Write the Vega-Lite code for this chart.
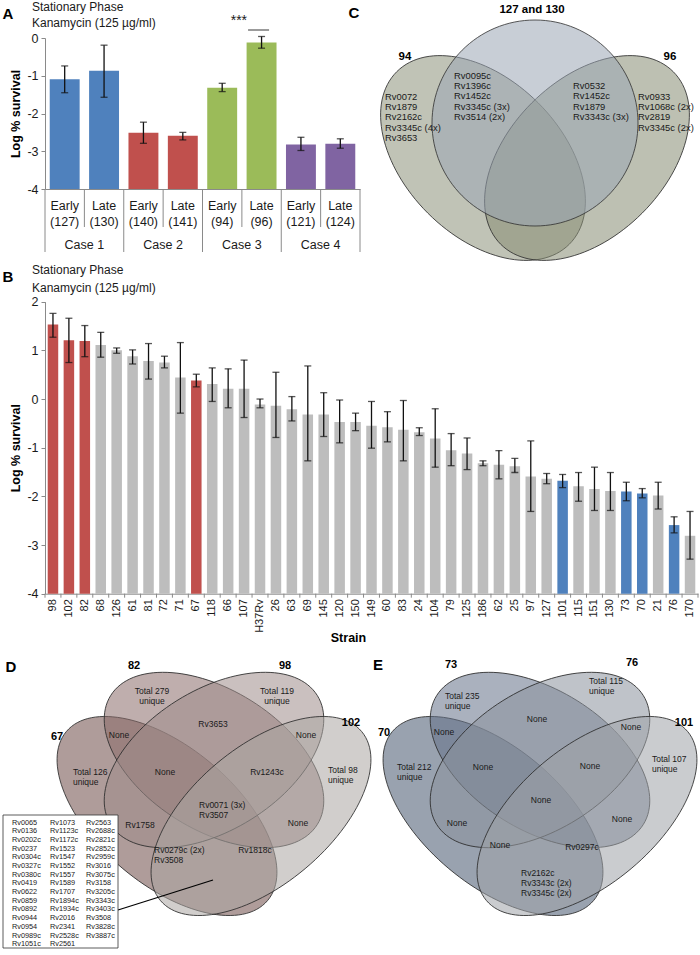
{
  "$schema": "https://vega.github.io/schema/vega-lite/v6.json",
  "padding": 0,
  "background": "white",
  "spacing": 0,
  "bounds": "flush",
  "resolve": {"scale": {"x": "independent", "y": "independent", "color": "independent", "shape": "independent", "angle": "independent"}},
  "config": {
    "font": "Liberation Sans",
    "view": {"stroke": null},
    "axis": {"grid": false, "domainColor": "#8a8a8a", "tickColor": "#8a8a8a", "labelColor": "#1a1a1a", "titleColor": "#000000", "labelFont": "Liberation Sans", "titleFont": "Liberation Sans"}
  },
  "datasets": {
    "panelA": [
      {"case": "Case 1", "phase": "Early", "id": "(127)", "cat": "Early (127)", "v": -1.09, "lo": -1.45, "hi": -0.74},
      {"case": "Case 1", "phase": "Late", "id": "(130)", "cat": "Late (130)", "v": -0.87, "lo": -1.57, "hi": -0.19},
      {"case": "Case 2", "phase": "Early", "id": "(140)", "cat": "Early (140)", "v": -2.51, "lo": -2.79, "hi": -2.23},
      {"case": "Case 2", "phase": "Late", "id": "(141)", "cat": "Late (141)", "v": -2.59, "lo": -2.70, "hi": -2.50},
      {"case": "Case 3", "phase": "Early", "id": "(94)", "cat": "Early (94)", "v": -1.32, "lo": -1.42, "hi": -1.20},
      {"case": "Case 3", "phase": "Late", "id": "(96)", "cat": "Late (96)", "v": -0.12, "lo": -0.27, "hi": 0.04},
      {"case": "Case 4", "phase": "Early", "id": "(121)", "cat": "Early (121)", "v": -2.82, "lo": -2.98, "hi": -2.63},
      {"case": "Case 4", "phase": "Late", "id": "(124)", "cat": "Late (124)", "v": -2.80, "lo": -2.92, "hi": -2.67}
    ],
    "panelB": [
      {"strain": "98", "grp": "high", "v": 1.53, "lo": 1.27, "hi": 1.76},
      {"strain": "102", "grp": "high", "v": 1.21, "lo": 0.75, "hi": 1.66},
      {"strain": "82", "grp": "high", "v": 1.19, "lo": 0.87, "hi": 1.51},
      {"strain": "68", "grp": "other", "v": 1.11, "lo": 0.86, "hi": 1.37},
      {"strain": "126", "grp": "other", "v": 1.00, "lo": 0.94, "hi": 1.05},
      {"strain": "61", "grp": "other", "v": 0.88, "lo": 0.72, "hi": 1.01},
      {"strain": "81", "grp": "other", "v": 0.78, "lo": 0.41, "hi": 1.14},
      {"strain": "72", "grp": "other", "v": 0.75, "lo": 0.64, "hi": 0.88},
      {"strain": "71", "grp": "other", "v": 0.44, "lo": -0.29, "hi": 1.16},
      {"strain": "67", "grp": "high", "v": 0.38, "lo": 0.25, "hi": 0.51},
      {"strain": "118", "grp": "other", "v": 0.31, "lo": -0.05, "hi": 0.64},
      {"strain": "66", "grp": "other", "v": 0.21, "lo": -0.18, "hi": 0.62},
      {"strain": "107", "grp": "other", "v": 0.21, "lo": -0.38, "hi": 0.80},
      {"strain": "H37Rv", "grp": "other", "v": -0.11, "lo": -0.18, "hi": 0.00},
      {"strain": "26", "grp": "other", "v": -0.14, "lo": -0.79, "hi": 0.55},
      {"strain": "63", "grp": "other", "v": -0.21, "lo": -0.45, "hi": 0.05},
      {"strain": "69", "grp": "other", "v": -0.32, "lo": -1.27, "hi": 0.68},
      {"strain": "145", "grp": "other", "v": -0.32, "lo": -0.77, "hi": 0.13},
      {"strain": "120", "grp": "other", "v": -0.47, "lo": -0.90, "hi": -0.02},
      {"strain": "150", "grp": "other", "v": -0.47, "lo": -0.65, "hi": -0.29},
      {"strain": "149", "grp": "other", "v": -0.55, "lo": -1.01, "hi": -0.05},
      {"strain": "60", "grp": "other", "v": -0.58, "lo": -0.88, "hi": -0.26},
      {"strain": "83", "grp": "other", "v": -0.63, "lo": -1.27, "hi": -0.03},
      {"strain": "24", "grp": "other", "v": -0.68, "lo": -0.75, "hi": -0.59},
      {"strain": "104", "grp": "other", "v": -0.81, "lo": -1.40, "hi": -0.20},
      {"strain": "79", "grp": "other", "v": -1.05, "lo": -1.37, "hi": -0.71},
      {"strain": "125", "grp": "other", "v": -1.12, "lo": -1.45, "hi": -0.80},
      {"strain": "186", "grp": "other", "v": -1.32, "lo": -1.37, "hi": -1.27},
      {"strain": "62", "grp": "other", "v": -1.35, "lo": -1.64, "hi": -1.06},
      {"strain": "25", "grp": "other", "v": -1.38, "lo": -1.51, "hi": -1.22},
      {"strain": "97", "grp": "other", "v": -1.59, "lo": -2.31, "hi": -0.86},
      {"strain": "127", "grp": "other", "v": -1.64, "lo": -1.74, "hi": -1.53},
      {"strain": "101", "grp": "low", "v": -1.68, "lo": -1.82, "hi": -1.55},
      {"strain": "115", "grp": "other", "v": -1.79, "lo": -2.10, "hi": -1.51},
      {"strain": "151", "grp": "other", "v": -1.85, "lo": -2.29, "hi": -1.40},
      {"strain": "130", "grp": "other", "v": -1.89, "lo": -2.29, "hi": -1.51},
      {"strain": "73", "grp": "low", "v": -1.90, "lo": -2.09, "hi": -1.71},
      {"strain": "70", "grp": "low", "v": -1.94, "lo": -2.03, "hi": -1.84},
      {"strain": "21", "grp": "other", "v": -1.98, "lo": -2.26, "hi": -1.71},
      {"strain": "76", "grp": "low", "v": -2.59, "lo": -2.75, "hi": -2.42},
      {"strain": "170", "grp": "other", "v": -2.81, "lo": -3.29, "hi": -2.31}
    ],
    "vennC": [
      {"set": "94", "kind": "lobe", "cx": 121, "cy": 158, "tilt": 45},
      {"set": "96", "kind": "lobe", "cx": 225, "cy": 158, "tilt": -45},
      {"set": "127 and 130", "kind": "circle", "cx": 173, "cy": 123, "tilt": 0}
    ],
    "labC": [
      {"role": "letter", "x": -8, "y": 13, "text": "C"},
      {"role": "set", "x": 170, "y": 10, "text": "127 and 130"},
      {"role": "set", "x": 43, "y": 57, "text": "94"},
      {"role": "set", "x": 308, "y": 57, "text": "96"},
      {"role": "list", "x": 23, "y": 92.7, "text": "Rv0072\nRv1879\nRv2162c\nRv3345c (4x)\nRv3653"},
      {"role": "list", "x": 92, "y": 71.7, "text": "Rv0095c\nRv1396c\nRv1452c\nRv3345c (3x)\nRv3514 (2x)"},
      {"role": "list", "x": 211, "y": 82, "text": "Rv0532\nRv1452c\nRv1879\nRv3343c (3x)"},
      {"role": "list", "x": 276, "y": 92.7, "text": "Rv0933\nRv1068c (2x)\nRv2819\nRv3345c (2x)"}
    ],
    "vennD": [
      {"set": "67", "kind": "outer", "cx": 167, "cy": 171, "tilt": 40},
      {"set": "82", "kind": "inner", "cx": 214, "cy": 115, "tilt": 32},
      {"set": "98", "kind": "inner", "cx": 214, "cy": 115, "tilt": -32},
      {"set": "102", "kind": "outer", "cx": 261, "cy": 171, "tilt": -40}
    ],
    "labD": [
      {"role": "letter", "x": 11, "y": 22, "text": "D"},
      {"role": "set", "x": 134, "y": 21, "text": "82"},
      {"role": "set", "x": 285, "y": 21, "text": "98"},
      {"role": "set", "x": 57, "y": 92, "text": "67"},
      {"role": "set", "x": 351, "y": 78, "text": "102"},
      {"role": "block", "x": 152, "y": 42.3, "text": "Total 279\nunique"},
      {"role": "block", "x": 277, "y": 42.3, "text": "Total 119\nunique"},
      {"role": "list", "x": 73, "y": 123.3, "text": "Total 126\nunique"},
      {"role": "list", "x": 328, "y": 121.3, "text": "Total 98\nunique"},
      {"role": "list", "x": 199, "y": 156.3, "text": "Rv0071 (3x)\nRv3507"},
      {"role": "list", "x": 154, "y": 201.3, "text": "Rv0279c (2x)\nRv3508"},
      {"role": "region", "x": 213, "y": 79, "text": "Rv3653"},
      {"role": "region", "x": 119, "y": 90, "text": "None"},
      {"role": "region", "x": 306, "y": 90, "text": "None"},
      {"role": "region", "x": 165, "y": 127, "text": "None"},
      {"role": "region", "x": 267, "y": 127, "text": "Rv1243c"},
      {"role": "region", "x": 140, "y": 180, "text": "Rv1758"},
      {"role": "region", "x": 298, "y": 178, "text": "None"},
      {"role": "region", "x": 255, "y": 205, "text": "Rv1818c"},
      {"role": "box", "x": 12, "y": 173.6, "text": "Rv0065\nRv0136\nRv0202c\nRv0237\nRv0304c\nRv0327c\nRv0380c\nRv0419\nRv0622\nRv0859\nRv0892\nRv0944\nRv0954\nRv0989c\nRv1051c"},
      {"role": "box", "x": 50, "y": 173.6, "text": "Rv1073\nRv1123c\nRv1172c\nRv1523\nRv1547\nRv1552\nRv1557\nRv1589\nRv1707\nRv1894c\nRv1934c\nRv2016\nRv2341\nRv2528c\nRv2561"},
      {"role": "box", "x": 86, "y": 173.6, "text": "Rv2563\nRv2688c\nRv2821c\nRv2852c\nRv2959c\nRv3016\nRv3075c\nRv3158\nRv3205c\nRv3343c\nRv3403c\nRv3508\nRv3828c\nRv3887c"}
    ],
    "boxD": [
      {"kind": "box", "x1": 3, "y1": 170, "x2": 118, "y2": 303},
      {"kind": "leader", "x1": 118, "y1": 265, "x2": 213, "y2": 235}
    ],
    "vennE": [
      {"set": "70", "kind": "outer", "cx": 123, "cy": 171, "tilt": 40},
      {"set": "73", "kind": "inner", "cx": 170, "cy": 115, "tilt": 32},
      {"set": "76", "kind": "inner", "cx": 170, "cy": 115, "tilt": -32},
      {"set": "101", "kind": "outer", "cx": 217, "cy": 171, "tilt": -40}
    ],
    "labE": [
      {"role": "letter", "x": 8, "y": 20, "text": "E"},
      {"role": "set", "x": 81, "y": 20, "text": "73"},
      {"role": "set", "x": 262, "y": 18, "text": "76"},
      {"role": "set", "x": 14, "y": 88, "text": "70"},
      {"role": "set", "x": 314, "y": 78, "text": "101"},
      {"role": "list", "x": 75, "y": 47.3, "text": "Total 235\nunique"},
      {"role": "list", "x": 219, "y": 32.3, "text": "Total 115\nunique"},
      {"role": "list", "x": 27, "y": 118.3, "text": "Total 212\nunique"},
      {"role": "list", "x": 282, "y": 110.3, "text": "Total 107\nunique"},
      {"role": "list", "x": 151, "y": 224.3, "text": "Rv2162c\nRv3343c (2x)\nRv3345c (2x)"},
      {"role": "region", "x": 167, "y": 74, "text": "None"},
      {"role": "region", "x": 74, "y": 87, "text": "None"},
      {"role": "region", "x": 261, "y": 82, "text": "None"},
      {"role": "region", "x": 113, "y": 122, "text": "None"},
      {"role": "region", "x": 220, "y": 121, "text": "None"},
      {"role": "region", "x": 171, "y": 155, "text": "None"},
      {"role": "region", "x": 87, "y": 178, "text": "None"},
      {"role": "region", "x": 252, "y": 174, "text": "None"},
      {"role": "region", "x": 130, "y": 200, "text": "None"},
      {"role": "region", "x": 212, "y": 202, "text": "Rv0297c"}
    ]
  },
  "vconcat": [
    {
      "width": 700,
      "height": 268,
      "resolve": {"scale": {"x": "independent", "y": "independent", "color": "independent", "shape": "independent", "angle": "independent"}, "axis": {"x": "independent", "y": "independent"}},
      "layer": [
        {
          "data": {"name": "panelA"},
          "layer": [
            {
              "mark": {"type": "bar", "width": {"band": 0.76}},
              "encoding": {
                "x": {"field": "cat", "type": "nominal", "sort": null,
                  "scale": {"domain": ["Early (127)", "Late (130)", "Early (140)", "Late (141)", "Early (94)", "Late (96)", "Early (121)", "Late (124)"], "range": [45, 360], "paddingInner": 0, "paddingOuter": 0},
                  "axis": {"title": null, "labels": false, "ticks": false, "offset": -79, "orient": "bottom"}},
                "y": {"field": "v", "type": "quantitative",
                  "scale": {"domain": [-4, 0], "range": [189, 38], "nice": false, "zero": false},
                  "axis": {"orient": "left", "title": "Log % survival", "values": [-4, -3, -2, -1, 0], "labelExpr": "'' + datum.value", "offset": -45, "tickSize": 4, "labelPadding": 3, "labelFontSize": 12.5, "titleFontSize": 12.5, "titleFontWeight": "bold", "titleX": -30, "titleY": 113.5, "titleBaseline": "middle", "titleAlign": "center", "titleAngle": 270}},
                "y2": {"datum": -4},
                "color": {"field": "case", "type": "nominal", "scale": {"domain": ["Case 1", "Case 2", "Case 3", "Case 4"], "range": ["#4F81BD", "#C0504D", "#9BBB59", "#8064A2"]}, "legend": null}
              }
            },
            {
              "mark": {"type": "rule", "color": "#111111", "strokeWidth": 1.3},
              "encoding": {"x": {"field": "cat", "type": "nominal", "sort": null}, "y": {"field": "lo", "type": "quantitative"}, "y2": {"field": "hi"}}
            },
            {
              "mark": {"type": "tick", "color": "#111111", "thickness": 1.3, "size": 7},
              "encoding": {"x": {"field": "cat", "type": "nominal", "sort": null}, "y": {"field": "lo", "type": "quantitative"}}
            },
            {
              "mark": {"type": "tick", "color": "#111111", "thickness": 1.3, "size": 7},
              "encoding": {"x": {"field": "cat", "type": "nominal", "sort": null}, "y": {"field": "hi", "type": "quantitative"}}
            },
            {
              "transform": [{"filter": "datum.phase === 'Late'"}],
              "mark": {"type": "rule", "color": "#8a8a8a", "strokeWidth": 1, "y2Offset": 38},
              "encoding": {"x": {"field": "cat", "type": "nominal", "sort": null, "bandPosition": 0}, "y": {"datum": -4}, "y2": {"datum": -4}}
            },
            {
              "transform": [{"filter": "datum.phase === 'Early'"}],
              "mark": {"type": "rule", "color": "#8a8a8a", "strokeWidth": 1, "y2Offset": 63},
              "encoding": {"x": {"field": "cat", "type": "nominal", "sort": null, "bandPosition": 0}, "y": {"datum": -4}, "y2": {"datum": -4}}
            },
            {
              "transform": [{"filter": "datum.cat === 'Late (124)'"}],
              "mark": {"type": "rule", "color": "#8a8a8a", "strokeWidth": 1, "y2Offset": 63},
              "encoding": {"x": {"field": "cat", "type": "nominal", "sort": null, "bandPosition": 1}, "y": {"datum": -4}, "y2": {"datum": -4}}
            },
            {
              "mark": {"type": "text", "fontSize": 12.5, "dy": 17, "color": "#1a1a1a", "baseline": "middle", "align": "center"},
              "encoding": {"x": {"field": "cat", "type": "nominal", "sort": null}, "y": {"datum": -4}, "text": {"field": "phase"}}
            },
            {
              "mark": {"type": "text", "fontSize": 12.5, "dy": 33, "color": "#1a1a1a", "baseline": "middle", "align": "center"},
              "encoding": {"x": {"field": "cat", "type": "nominal", "sort": null}, "y": {"datum": -4}, "text": {"field": "id"}}
            },
            {
              "transform": [{"filter": "datum.phase === 'Late'"}],
              "mark": {"type": "text", "fontSize": 12.5, "dy": 56, "color": "#1a1a1a", "baseline": "middle", "align": "center"},
              "encoding": {"x": {"field": "cat", "type": "nominal", "sort": null, "bandPosition": 0}, "y": {"datum": -4}, "text": {"field": "case"}}
            },
            {
              "transform": [{"filter": "datum.cat === 'Early (127)'"}],
              "mark": {"type": "text", "text": "A", "fontSize": 15, "fontWeight": "bold", "align": "center", "baseline": "middle", "dx": -37, "dy": -24.5, "color": "#000000"},
              "encoding": {"x": {"field": "cat", "type": "nominal", "sort": null, "bandPosition": 0}, "y": {"datum": 0}}
            },
            {
              "transform": [{"filter": "datum.cat === 'Early (127)'"}],
              "mark": {"type": "text", "text": "Stationary Phase", "fontSize": 12, "align": "left", "baseline": "middle", "dx": -13, "dy": -31, "color": "#1a1a1a"},
              "encoding": {"x": {"field": "cat", "type": "nominal", "sort": null, "bandPosition": 0}, "y": {"datum": 0}}
            },
            {
              "transform": [{"filter": "datum.cat === 'Early (127)'"}],
              "mark": {"type": "text", "text": "Kanamycin (125 µg/ml)", "fontSize": 12, "align": "left", "baseline": "middle", "dx": -13, "dy": -15, "color": "#1a1a1a"},
              "encoding": {"x": {"field": "cat", "type": "nominal", "sort": null, "bandPosition": 0}, "y": {"datum": 0}}
            },
            {
              "transform": [{"filter": "datum.cat === 'Late (96)'"}],
              "mark": {"type": "text", "text": "***", "fontSize": 14, "align": "center", "baseline": "middle", "dx": -3, "dy": -17, "color": "#1a1a1a"},
              "encoding": {"x": {"field": "cat", "type": "nominal", "sort": null, "bandPosition": 0}, "y": {"datum": 0}}
            },
            {
              "transform": [{"filter": "datum.cat === 'Late (96)'"}],
              "mark": {"type": "tick", "size": 21, "thickness": 1.2, "xOffset": -3, "yOffset": -8, "color": "#111111"},
              "encoding": {"x": {"field": "cat", "type": "nominal", "sort": null, "bandPosition": 0}, "y": {"datum": 0}}
            }
          ]
        },
        {
          "layer": [
            {
              "data": {"name": "vennC"},
              "mark": {"type": "point", "filled": true, "size": 40000, "opacity": 1, "fillOpacity": 0.55, "stroke": "#2e2e2e", "strokeWidth": 0.8, "strokeOpacity": 1},
              "encoding": {
                "x": {"field": "cx", "type": "quantitative", "scale": {"domain": [0, 338], "range": [362, 700], "nice": false, "zero": false}, "axis": null},
                "y": {"field": "cy", "type": "quantitative", "scale": {"domain": [0, 268], "range": [0, 268], "nice": false, "zero": false}, "axis": null},
                "shape": {"field": "kind", "type": "nominal", "scale": {"domain": ["circle", "lobe"], "range": ["M-1.03,0A1.03,1.03,0,1,1,1.03,0A1.03,1.03,0,1,1,-1.03,0Z", "M-1.22,0A1.22,0.78,0,1,1,1.22,0A1.22,0.78,0,1,1,-1.22,0Z"]}, "legend": null},
                "angle": {"field": "tilt", "type": "quantitative", "scale": {"domain": [-90, 90], "range": [-90, 90]}, "legend": null},
                "color": {"field": "set", "type": "nominal", "scale": {"domain": ["127 and 130", "94", "96"], "range": ["#9aa5b4", "#8c927a", "#868d73"]}, "legend": null}
              }
            },
            {
              "data": {"name": "labC"},
              "transform": [{"filter": "datum.role === 'letter'"}],
              "mark": {"type": "text", "fontSize": 15, "fontWeight": "bold", "align": "center", "baseline": "middle", "color": "#000000"},
              "encoding": {"x": {"field": "x", "type": "quantitative"}, "y": {"field": "y", "type": "quantitative"}, "text": {"field": "text"}}
            },
            {
              "data": {"name": "labC"},
              "transform": [{"filter": "datum.role === 'set'"}],
              "mark": {"type": "text", "fontSize": 11.5, "fontWeight": "bold", "align": "center", "baseline": "middle", "color": "#000000"},
              "encoding": {"x": {"field": "x", "type": "quantitative"}, "y": {"field": "y", "type": "quantitative"}, "text": {"field": "text"}}
            },
            {
              "data": {"name": "labC"},
              "transform": [{"filter": "datum.role === 'list'"}],
              "mark": {"type": "text", "fontSize": 9.4, "align": "left", "baseline": "top", "lineBreak": "\n", "lineHeight": 10.4, "color": "#1a1a1a"},
              "encoding": {"x": {"field": "x", "type": "quantitative"}, "y": {"field": "y", "type": "quantitative"}, "text": {"field": "text"}}
            }
          ]
        }
      ]
    },
    {
      "width": 700,
      "height": 377,
      "data": {"name": "panelB"},
      "layer": [
        {
          "mark": {"type": "bar", "width": {"band": 0.66}},
          "encoding": {
            "x": {"field": "strain", "type": "nominal", "sort": null,
              "scale": {"domain": ["98", "102", "82", "68", "126", "61", "81", "72", "71", "67", "118", "66", "107", "H37Rv", "26", "63", "69", "145", "120", "150", "149", "60", "83", "24", "104", "79", "125", "186", "62", "25", "97", "127", "101", "115", "151", "130", "73", "70", "21", "76", "170"], "range": [45, 698], "paddingInner": 0, "paddingOuter": 0},
              "axis": {"title": "Strain", "labelAngle": 270, "labelFontSize": 11, "labelPadding": 5, "ticks": false, "offset": -51.3, "titleFontSize": 12.5, "titleFontWeight": "bold", "titleX": 348, "titleY": 44, "titleBaseline": "middle", "titleAlign": "center"}},
            "y": {"field": "v", "type": "quantitative",
              "scale": {"domain": [-4, 2], "range": [325.7, 33.7], "nice": false, "zero": false},
              "axis": {"title": "Log % survival", "values": [-4, -3, -2, -1, 0, 1, 2], "labelExpr": "'' + datum.value", "offset": -45, "tickSize": 4, "labelPadding": 3, "labelFontSize": 12.5, "titleFontSize": 12.5, "titleFontWeight": "bold", "titleX": -30, "titleY": 179.7, "titleBaseline": "middle", "titleAlign": "center", "titleAngle": 270}},
            "y2": {"datum": -4},
            "color": {"field": "grp", "type": "nominal", "scale": {"domain": ["high", "low", "other"], "range": ["#C0504D", "#4F81BD", "#BDBDBD"]}, "legend": null}
          }
        },
        {
          "mark": {"type": "rule", "color": "#111111", "strokeWidth": 1.3},
          "encoding": {"x": {"field": "strain", "type": "nominal", "sort": null}, "y": {"field": "lo", "type": "quantitative"}, "y2": {"field": "hi"}}
        },
        {
          "mark": {"type": "tick", "color": "#111111", "thickness": 1.3, "size": 7},
          "encoding": {"x": {"field": "strain", "type": "nominal", "sort": null}, "y": {"field": "lo", "type": "quantitative"}}
        },
        {
          "mark": {"type": "tick", "color": "#111111", "thickness": 1.3, "size": 7},
          "encoding": {"x": {"field": "strain", "type": "nominal", "sort": null}, "y": {"field": "hi", "type": "quantitative"}}
        },
        {
          "mark": {"type": "rule", "color": "#8a8a8a", "strokeWidth": 1, "y2Offset": 4},
          "encoding": {"x": {"field": "strain", "type": "nominal", "sort": null, "bandPosition": 0}, "y": {"datum": -4}, "y2": {"datum": -4}}
        },
        {
          "transform": [{"filter": "datum.strain === '170'"}],
          "mark": {"type": "rule", "color": "#8a8a8a", "strokeWidth": 1, "y2Offset": 4},
          "encoding": {"x": {"field": "strain", "type": "nominal", "sort": null, "bandPosition": 1}, "y": {"datum": -4}, "y2": {"datum": -4}}
        },
        {
          "transform": [{"filter": "datum.strain === '98'"}],
          "mark": {"type": "text", "text": "B", "fontSize": 15, "fontWeight": "bold", "align": "center", "baseline": "middle", "dx": -37, "dy": -24.7, "color": "#000000"},
          "encoding": {"x": {"field": "strain", "type": "nominal", "sort": null, "bandPosition": 0}, "y": {"datum": 2}}
        },
        {
          "transform": [{"filter": "datum.strain === '98'"}],
          "mark": {"type": "text", "text": "Stationary Phase", "fontSize": 12, "align": "left", "baseline": "middle", "dx": -13, "dy": -31.7, "color": "#1a1a1a"},
          "encoding": {"x": {"field": "strain", "type": "nominal", "sort": null, "bandPosition": 0}, "y": {"datum": 2}}
        },
        {
          "transform": [{"filter": "datum.strain === '98'"}],
          "mark": {"type": "text", "text": "Kanamycin (125 µg/ml)", "fontSize": 12, "align": "left", "baseline": "middle", "dx": -13, "dy": -13.7, "color": "#1a1a1a"},
          "encoding": {"x": {"field": "strain", "type": "nominal", "sort": null, "bandPosition": 0}, "y": {"datum": 2}}
        }
      ]
    },
    {
      "width": 700,
      "height": 310,
      "resolve": {"scale": {"x": "independent", "y": "independent", "color": "independent", "shape": "independent", "angle": "independent"}},
      "layer": [
        {
          "layer": [
            {
              "data": {"name": "vennD"},
              "mark": {"type": "point", "filled": true, "size": 40000, "opacity": 1, "fillOpacity": 0.55, "stroke": "#2e2e2e", "strokeWidth": 0.8, "strokeOpacity": 1},
              "encoding": {
                "x": {"field": "cx", "type": "quantitative", "scale": {"domain": [0, 370], "range": [0, 370], "nice": false, "zero": false}, "axis": null},
                "y": {"field": "cy", "type": "quantitative", "scale": {"domain": [0, 310], "range": [0, 310], "nice": false, "zero": false}, "axis": null},
                "shape": {"field": "kind", "type": "nominal", "scale": {"domain": ["outer", "inner"], "range": ["M-1.314,0A1.314,0.687,0,1,1,1.314,0A1.314,0.687,0,1,1,-1.314,0Z", "M-1.218,0A1.218,0.7,0,1,1,1.218,0A1.218,0.7,0,1,1,-1.218,0Z"]}, "legend": null},
                "angle": {"field": "tilt", "type": "quantitative", "scale": {"domain": [-90, 90], "range": [-90, 90]}, "legend": null},
                "color": {"field": "set", "type": "nominal", "scale": {"domain": ["67", "82", "98", "102"], "range": ["#6e4a47", "#8a6c6a", "#9f8d8b", "#aba5a2"]}, "legend": null}
              }
            },
            {
              "data": {"name": "boxD"},
              "transform": [{"filter": "datum.kind === 'leader'"}],
              "mark": {"type": "rule", "color": "#000000", "strokeWidth": 1.2},
              "encoding": {"x": {"field": "x1", "type": "quantitative"}, "y": {"field": "y1", "type": "quantitative"}, "x2": {"field": "x2"}, "y2": {"field": "y2"}}
            },
            {
              "data": {"name": "boxD"},
              "transform": [{"filter": "datum.kind === 'box'"}],
              "mark": {"type": "rect", "fill": "#ffffff", "stroke": "#333333", "strokeWidth": 0.8},
              "encoding": {"x": {"field": "x1", "type": "quantitative"}, "y": {"field": "y1", "type": "quantitative"}, "x2": {"field": "x2"}, "y2": {"field": "y2"}}
            },
            {
              "data": {"name": "labD"},
              "transform": [{"filter": "datum.role === 'letter'"}],
              "mark": {"type": "text", "fontSize": 15, "fontWeight": "bold", "align": "center", "baseline": "middle", "color": "#000000"},
              "encoding": {"x": {"field": "x", "type": "quantitative"}, "y": {"field": "y", "type": "quantitative"}, "text": {"field": "text"}}
            },
            {
              "data": {"name": "labD"},
              "transform": [{"filter": "datum.role === 'set'"}],
              "mark": {"type": "text", "fontSize": 11, "fontWeight": "bold", "align": "center", "baseline": "middle", "color": "#000000"},
              "encoding": {"x": {"field": "x", "type": "quantitative"}, "y": {"field": "y", "type": "quantitative"}, "text": {"field": "text"}}
            },
            {
              "data": {"name": "labD"},
              "transform": [{"filter": "datum.role === 'region'"}],
              "mark": {"type": "text", "fontSize": 8.5, "align": "center", "baseline": "middle", "color": "#1a1a1a"},
              "encoding": {"x": {"field": "x", "type": "quantitative"}, "y": {"field": "y", "type": "quantitative"}, "text": {"field": "text"}}
            },
            {
              "data": {"name": "labD"},
              "transform": [{"filter": "datum.role === 'block'"}],
              "mark": {"type": "text", "fontSize": 8.5, "align": "center", "baseline": "top", "lineBreak": "\n", "lineHeight": 10, "color": "#1a1a1a"},
              "encoding": {"x": {"field": "x", "type": "quantitative"}, "y": {"field": "y", "type": "quantitative"}, "text": {"field": "text"}}
            },
            {
              "data": {"name": "labD"},
              "transform": [{"filter": "datum.role === 'list'"}],
              "mark": {"type": "text", "fontSize": 8.5, "align": "left", "baseline": "top", "lineBreak": "\n", "lineHeight": 10, "color": "#1a1a1a"},
              "encoding": {"x": {"field": "x", "type": "quantitative"}, "y": {"field": "y", "type": "quantitative"}, "text": {"field": "text"}}
            },
            {
              "data": {"name": "labD"},
              "transform": [{"filter": "datum.role === 'box'"}],
              "mark": {"type": "text", "fontSize": 7.3, "align": "left", "baseline": "top", "lineBreak": "\n", "lineHeight": 8.69, "color": "#1a1a1a"},
              "encoding": {"x": {"field": "x", "type": "quantitative"}, "y": {"field": "y", "type": "quantitative"}, "text": {"field": "text"}}
            }
          ]
        },
        {
          "layer": [
            {
              "data": {"name": "vennE"},
              "mark": {"type": "point", "filled": true, "size": 40000, "opacity": 1, "fillOpacity": 0.55, "stroke": "#2e2e2e", "strokeWidth": 0.8, "strokeOpacity": 1},
              "encoding": {
                "x": {"field": "cx", "type": "quantitative", "scale": {"domain": [0, 330], "range": [370, 700], "nice": false, "zero": false}, "axis": null},
                "y": {"field": "cy", "type": "quantitative", "scale": {"domain": [0, 310], "range": [0, 310], "nice": false, "zero": false}, "axis": null},
                "shape": {"field": "kind", "type": "nominal", "scale": {"domain": ["outer", "inner"], "range": ["M-1.314,0A1.314,0.687,0,1,1,1.314,0A1.314,0.687,0,1,1,-1.314,0Z", "M-1.218,0A1.218,0.7,0,1,1,1.218,0A1.218,0.7,0,1,1,-1.218,0Z"]}, "legend": null},
                "angle": {"field": "tilt", "type": "quantitative", "scale": {"domain": [-90, 90], "range": [-90, 90]}, "legend": null},
                "color": {"field": "set", "type": "nominal", "scale": {"domain": ["70", "73", "76", "101"], "range": ["#46566e", "#647188", "#8a919c", "#9ea2a8"]}, "legend": null}
              }
            },
            {
              "data": {"name": "labE"},
              "transform": [{"filter": "datum.role === 'letter'"}],
              "mark": {"type": "text", "fontSize": 15, "fontWeight": "bold", "align": "center", "baseline": "middle", "color": "#000000"},
              "encoding": {"x": {"field": "x", "type": "quantitative"}, "y": {"field": "y", "type": "quantitative"}, "text": {"field": "text"}}
            },
            {
              "data": {"name": "labE"},
              "transform": [{"filter": "datum.role === 'set'"}],
              "mark": {"type": "text", "fontSize": 11, "fontWeight": "bold", "align": "center", "baseline": "middle", "color": "#000000"},
              "encoding": {"x": {"field": "x", "type": "quantitative"}, "y": {"field": "y", "type": "quantitative"}, "text": {"field": "text"}}
            },
            {
              "data": {"name": "labE"},
              "transform": [{"filter": "datum.role === 'region'"}],
              "mark": {"type": "text", "fontSize": 8.5, "align": "center", "baseline": "middle", "color": "#1a1a1a"},
              "encoding": {"x": {"field": "x", "type": "quantitative"}, "y": {"field": "y", "type": "quantitative"}, "text": {"field": "text"}}
            },
            {
              "data": {"name": "labE"},
              "transform": [{"filter": "datum.role === 'list'"}],
              "mark": {"type": "text", "fontSize": 8.5, "align": "left", "baseline": "top", "lineBreak": "\n", "lineHeight": 10, "color": "#1a1a1a"},
              "encoding": {"x": {"field": "x", "type": "quantitative"}, "y": {"field": "y", "type": "quantitative"}, "text": {"field": "text"}}
            }
          ]
        }
      ]
    }
  ]
}
